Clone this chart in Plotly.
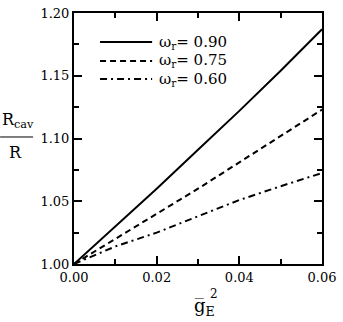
import plotly.graph_objects as go

x_vals = [0.0, 0.01, 0.02, 0.03, 0.04, 0.05, 0.06]
r_090 = [1.0, 1.030, 1.060, 1.091, 1.122, 1.154, 1.187]
r_075 = [1.0, 1.020, 1.040, 1.060, 1.081, 1.102, 1.123]
r_060 = [1.0, 1.014, 1.025, 1.038, 1.051, 1.062, 1.0725]
labels = ["ω<sub>r</sub>= 0.90", "ω<sub>r</sub>= 0.75", "ω<sub>r</sub>= 0.60"]
x_ticks = [0.0, 0.02, 0.04, 0.06]
x_ticktext = ["0.00", "0.02", "0.04", "0.06"]
y_ticks = [1.0, 1.05, 1.10, 1.15, 1.20]
y_ticktext = ["1.00", "1.05", "1.10", "1.15", "1.20"]

FONT = "DejaVu Serif"
DASHES = ["solid", "6px,4px", "7px,4px,2px,4px"]

fig = go.Figure()
for y, lab, dash in zip([r_090, r_075, r_060], labels, DASHES):
    fig.add_trace(go.Scatter(x=x_vals, y=y, mode="lines", name=lab, showlegend=False,
                             line=dict(color="black", width=2, dash=dash)))

axis_common = dict(showgrid=False, zeroline=False, showline=True, linecolor="black",
                   linewidth=2, mirror="ticks", ticks="inside", ticklen=8, tickwidth=2,
                   tickcolor="black", automargin=False,
                   tickfont=dict(family=FONT, size=13, color="black"))

fig.update_xaxes(range=[0, 0.06], tickvals=x_ticks, ticktext=x_ticktext,
                 minor=dict(tickvals=[0.01, 0.03, 0.05], ticks="inside", ticklen=5,
                            tickwidth=2, tickcolor="black"),
                 **axis_common)
fig.update_yaxes(range=[1.0, 1.2], tickvals=y_ticks, ticktext=y_ticktext,
                 minor=dict(tickvals=[1.025, 1.075, 1.125, 1.175], ticks="inside", ticklen=5,
                            tickwidth=2, tickcolor="black"),
                 **axis_common)

fig.update_layout(
    width=343, height=322,
    margin=dict(l=74, r=21, t=13, b=58),
    paper_bgcolor="white", plot_bgcolor="white",
    font=dict(family=FONT, size=15, color="black"),
    showlegend=False,
)

# manual legend (line samples + labels)
legend_rows = [0.884, 0.809, 0.737]
for lab, dash, yy in zip(labels, DASHES, legend_rows):
    fig.add_shape(type="line", xref="paper", yref="paper", x0=0.105, x1=0.315, y0=yy, y1=yy,
                  line=dict(color="black", width=2, dash=dash))
    fig.add_annotation(text=lab, xref="paper", yref="paper", x=0.333, y=yy,
                       xanchor="left", yanchor="middle", showarrow=False,
                       font=dict(family=FONT, size=15))

# y-axis title as fraction
fig.add_annotation(text="R<sub>cav</sub>", xref="paper", yref="paper", x=-0.298, y=0.52,
                   xanchor="left", yanchor="bottom", showarrow=False,
                   font=dict(family=FONT, size=16))
fig.add_annotation(text="R", xref="paper", yref="paper", x=-0.237, y=0.49,
                   xanchor="center", yanchor="top", showarrow=False,
                   font=dict(family=FONT, size=16))
fig.add_shape(type="line", xref="paper", yref="paper", x0=-0.298, x1=-0.165, y0=0.506, y1=0.506,
              line=dict(color="black", width=1))

# x-axis title g-bar_E^2
fig.add_annotation(text="g\u0305<sub>E</sub>", xref="paper", yref="paper", x=0.526, y=-0.115,
                   xanchor="center", yanchor="top", showarrow=False,
                   font=dict(family=FONT, size=18))
fig.add_annotation(text="2", xref="paper", yref="paper", x=0.54, y=-0.085,
                   xanchor="left", yanchor="top", showarrow=False,
                   font=dict(family=FONT, size=12))

fig.write_html("out.html", config={"displayModeBar": False},
               post_script="document.body.style.margin='0px';")
